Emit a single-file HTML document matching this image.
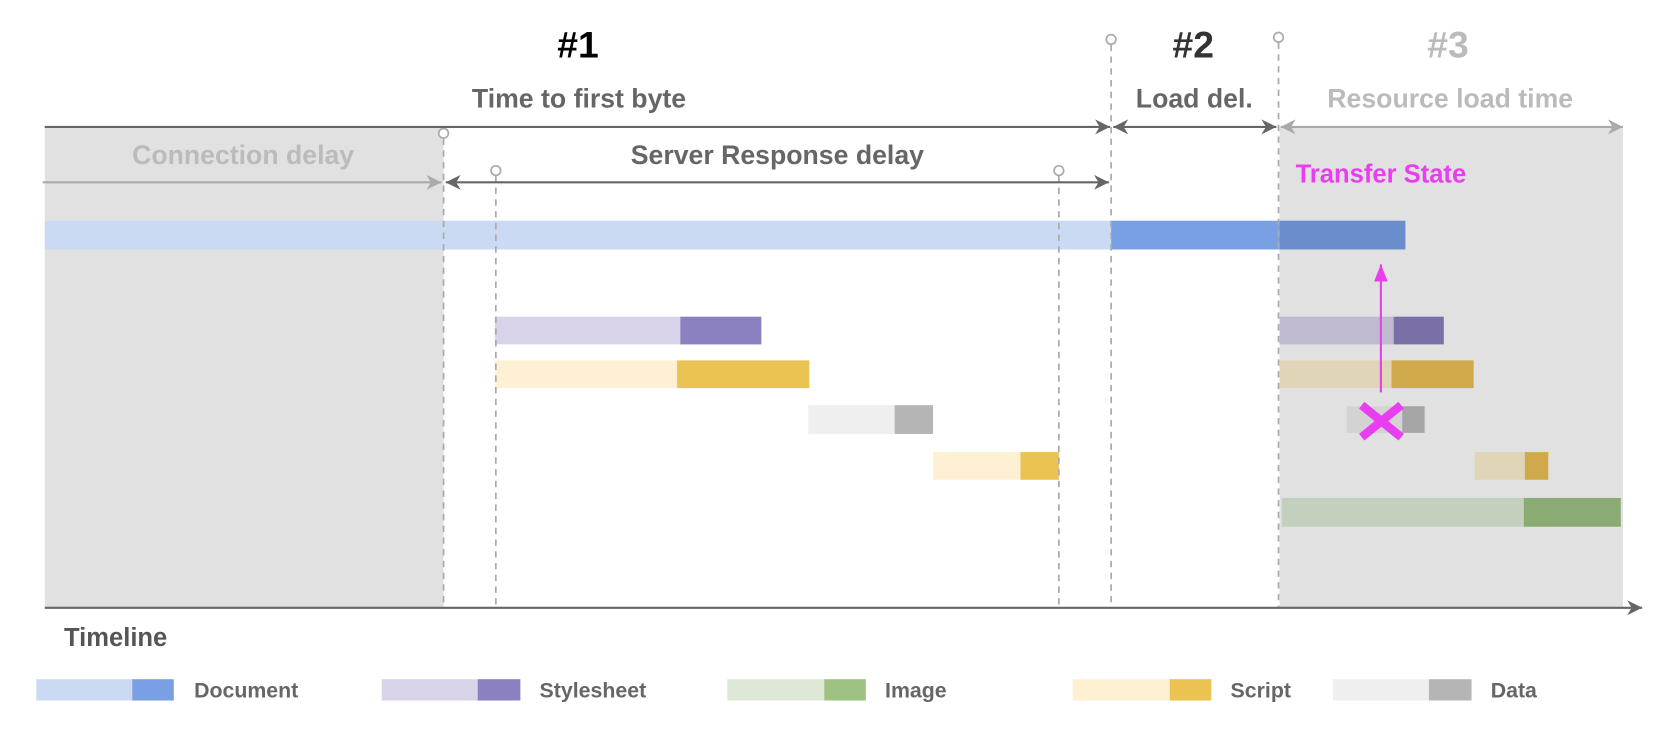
<!DOCTYPE html>
<html><head><meta charset="utf-8"><style>html,body{margin:0;padding:0;background:#fff}svg{display:block}text{font-family:"Liberation Sans",sans-serif;font-weight:bold}</style></head><body>
<svg width="1672" height="734" viewBox="0 0 1568 688.4" preserveAspectRatio="none" xmlns="http://www.w3.org/2000/svg">
<defs>
<marker id="ad" viewBox="0 0 10 10" refX="10" refY="5" markerWidth="14" markerHeight="14" markerUnits="userSpaceOnUse" orient="auto-start-reverse"><path d="M0,0 L10,5 L0,10 L3,5 z" fill="#666"/></marker>
<marker id="al" viewBox="0 0 10 10" refX="10" refY="5" markerWidth="14" markerHeight="14" markerUnits="userSpaceOnUse" orient="auto-start-reverse"><path d="M0,0 L10,5 L0,10 L3,5 z" fill="#aaa"/></marker>
<marker id="am" viewBox="0 0 10 10" refX="10" refY="5" markerWidth="16" markerHeight="16" markerUnits="userSpaceOnUse" orient="auto"><path d="M0,1 L10,5 L0,9 z" fill="#e83ef0"/></marker>
</defs>
<rect x="42" y="119" width="374" height="451" fill="#e1e1e1"/>
<rect x="1200" y="119" width="322" height="451" fill="#e1e1e1"/>
<rect x="42" y="207" width="1000" height="27" fill="#cbdaf3"/>
<rect x="1042" y="207" width="158" height="27" fill="#7aa0e4"/>
<rect x="1200" y="207" width="118" height="27" fill="#6a8ecc"/>
<rect x="464" y="297" width="174" height="26" fill="#d8d3e8"/>
<rect x="638" y="297" width="76" height="26" fill="#8b80c0"/>
<rect x="1200" y="297" width="107" height="26" fill="#bfbad0"/>
<rect x="1307" y="297" width="47" height="26" fill="#7b6fa8"/>
<rect x="464" y="338" width="171" height="26" fill="#fdf0d3"/>
<rect x="635" y="338" width="124" height="26" fill="#eac352"/>
<rect x="1200" y="338" width="105" height="26" fill="#e1d5b8"/>
<rect x="1305" y="338" width="77" height="26" fill="#d0aa4a"/>
<rect x="758" y="380" width="81" height="27" fill="#efefef"/>
<rect x="839" y="380" width="36" height="27" fill="#b5b5b5"/>
<rect x="1263" y="381" width="52" height="25" fill="#d3d3d3"/>
<rect x="1315" y="381" width="21" height="25" fill="#a5a5a5"/>
<rect x="875" y="424" width="82" height="26" fill="#fdf0d3"/>
<rect x="957" y="424" width="36" height="26" fill="#eac352"/>
<rect x="1383" y="424" width="47" height="26" fill="#e1d5b8"/>
<rect x="1430" y="424" width="22" height="26" fill="#d0aa4a"/>
<rect x="1202" y="467" width="227" height="27" fill="#c3d0be"/>
<rect x="1429" y="467" width="91" height="27" fill="#8aab72"/>
<g stroke="#aaa" stroke-width="1.6" stroke-dasharray="6,5" fill="none">
<line x1="416" y1="130" x2="416" y2="570"/>
<line x1="465" y1="165" x2="465" y2="570"/>
<line x1="993" y1="165" x2="993" y2="570"/>
<line x1="1042" y1="42" x2="1042" y2="570"/>
<line x1="1199" y1="40" x2="1199" y2="570"/>
</g>
<g stroke="#aaa" stroke-width="1.6" fill="#fff">
<circle cx="416" cy="125" r="4.5"/><circle cx="465" cy="160" r="4.5"/><circle cx="993" cy="160" r="4.5"/><circle cx="1042" cy="37" r="4.5"/><circle cx="1199" cy="35" r="4.5"/>
</g>
<line x1="42" y1="119" x2="1041" y2="119" stroke="#666" stroke-width="2" marker-end="url(#ad)"/>
<line x1="1044" y1="119" x2="1197" y2="119" stroke="#666" stroke-width="2" marker-start="url(#ad)" marker-end="url(#ad)"/>
<line x1="1201" y1="119" x2="1522" y2="119" stroke="#aaa" stroke-width="2" marker-start="url(#al)" marker-end="url(#al)"/>
<line x1="40" y1="171" x2="414" y2="171" stroke="#aaa" stroke-width="2" marker-end="url(#al)"/>
<line x1="418" y1="171" x2="1040" y2="171" stroke="#666" stroke-width="2" marker-start="url(#ad)" marker-end="url(#ad)"/>
<line x1="42" y1="570" x2="1540" y2="570" stroke="#666" stroke-width="2" marker-end="url(#ad)"/>
<line x1="1295" y1="368" x2="1295" y2="248" stroke="#e83ef0" stroke-width="2" marker-end="url(#am)"/>
<g stroke="#e83ef0" stroke-width="8"><line x1="1277" y1="380" x2="1314" y2="410"/><line x1="1314" y1="380" x2="1277" y2="410"/></g>
<text x="542" y="54" font-size="35" fill="#000" text-anchor="middle">#1</text>
<text x="1119" y="54" font-size="35" fill="#333" text-anchor="middle">#2</text>
<text x="1358" y="54" font-size="35" fill="#bbb" text-anchor="middle">#3</text>
<text x="543" y="101" font-size="25" fill="#666" text-anchor="middle">Time to first byte</text>
<text x="1120" y="101" font-size="25" fill="#666" text-anchor="middle">Load del.</text>
<text x="1360" y="101" font-size="25" fill="#bbb" text-anchor="middle">Resource load time</text>
<text x="228" y="154" font-size="25" fill="#bbb" text-anchor="middle">Connection delay</text>
<text x="729" y="154" font-size="25" fill="#666" text-anchor="middle">Server Response delay</text>
<text x="1295" y="171" font-size="24" fill="#e83ef0" text-anchor="middle">Transfer State</text>
<text x="60" y="606" font-size="24" fill="#555">Timeline</text>
<rect x="34" y="637" width="90" height="20" fill="#cbdaf3"/><rect x="124" y="637" width="39" height="20" fill="#7aa0e4"/>
<rect x="358" y="637" width="90" height="20" fill="#d8d3e8"/><rect x="448" y="637" width="40" height="20" fill="#8b80c0"/>
<rect x="682" y="637" width="91" height="20" fill="#dde9d6"/><rect x="773" y="637" width="39" height="20" fill="#9ec184"/>
<rect x="1006" y="637" width="91" height="20" fill="#fdf0d3"/><rect x="1097" y="637" width="39" height="20" fill="#eac352"/>
<rect x="1250" y="637" width="90" height="20" fill="#efefef"/><rect x="1340" y="637" width="40" height="20" fill="#b5b5b5"/>
<g font-size="20" fill="#666">
<text x="182" y="654">Document</text><text x="506" y="654">Stylesheet</text><text x="830" y="654">Image</text><text x="1154" y="654">Script</text><text x="1398" y="654">Data</text>
</g>
</svg>
</body></html>
